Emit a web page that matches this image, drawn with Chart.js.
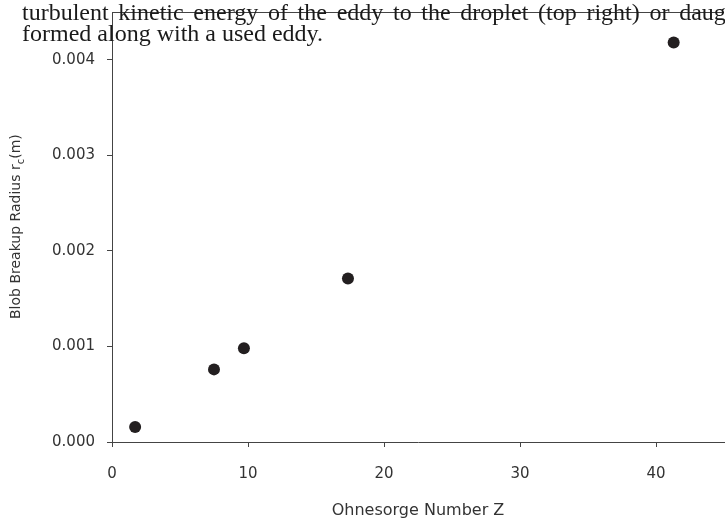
<!DOCTYPE html>
<html>
<head>
<meta charset="utf-8">
<script src="https://cdn.jsdelivr.net/npm/chart.js@4.4.0/dist/chart.umd.min.js"></script>
<style>
	html, body { margin: 0; padding: 0; background: #fff; overflow: hidden; width: 725px; height: 520px; }
	#wrap { position: relative; width: 725px; height: 520px; overflow: hidden; }
	canvas { position: absolute; left: 0; top: 0; }
	.note { position: absolute; left: 22px; font-family: "Liberation Serif", serif; font-size: 24px; line-height: 1; color: #1a1a1a; white-space: nowrap; }
</style>
</head>
<body>
<div id="wrap">
	<canvas id="chart" width="730" height="520" style="width: 730px; height: 520px"></canvas>
	<div class="note" style="top: -0.5px; word-spacing: 3.7px">turbulent kinetic energy of the eddy to the droplet (top right) or daughter</div>
	<div class="note" style="top: 20.8px">formed along with a used eddy.</div>
</div>
<script>
const ohnesorge = [1.7, 7.5, 9.7, 17.35, 41.3];
const breakupRadius = [0.000157, 0.00076, 0.00098, 0.00171, 0.00418];
const xTicks = [0, 10, 20, 30, 40];
const yTicks = [0.000, 0.001, 0.002, 0.003, 0.004];

const axisColor = "#444";
const textColor = "#333";

const frame = {
	id: "frame",
	afterDraw: (chart) => {
		const { ctx, chartArea } = chart;
		ctx.save();
		// top border of the plot box
		ctx.strokeStyle = axisColor;
		ctx.lineWidth = 1;
		ctx.beginPath();
		ctx.moveTo(chartArea.left, chartArea.top + 0.5);
		ctx.lineTo(chartArea.right, chartArea.top + 0.5);
		ctx.stroke();

		// y title with subscript c
		ctx.translate(20, 319);
		ctx.rotate(-Math.PI / 2);
		ctx.fillStyle = textColor;
		ctx.textBaseline = "alphabetic";
		ctx.textAlign = "left";
		ctx.font = "14px 'DejaVu Sans'";
		const main = "Blob Breakup Radius r";
		ctx.fillText(main, 0, 0);
		let w = ctx.measureText(main).width;
		ctx.font = "10px 'DejaVu Sans'";
		ctx.fillText("c", w, 4);
		w += ctx.measureText("c").width;
		ctx.font = "14px 'DejaVu Sans'";
		ctx.fillText("(m)", w, 0);
		ctx.restore();
	},
};

const ctx = document.getElementById("chart").getContext("2d");

new Chart(ctx, {
	type: "scatter",
	data: {
		datasets: [
			{
				data: ohnesorge.map((x, i) => ({ x, y: breakupRadius[i] })),
				pointRadius: 6,
				pointHoverRadius: 6,
				backgroundColor: "#231f20",
				borderColor: "#231f20",
				borderWidth: 0,
			},
		],
	},
	options: {
		responsive: false,
		animation: false,
		devicePixelRatio: 1,
		layout: {
			padding: { top: 12, right: 3, bottom: 0, left: 0 },
		},
		plugins: {
			legend: { display: false },
			tooltip: { enabled: false },
		},
		scales: {
			x: {
				type: "linear",
				min: 0,
				max: 45,
				afterFit: (scale) => {
					scale.height = 78;
					scale.paddingLeft = 0;
					scale.paddingRight = 0;
				},
				afterBuildTicks: (scale) => {
					scale.ticks = xTicks.map((value) => ({ value }));
				},
				border: { color: axisColor, width: 1 },
				grid: {
					drawOnChartArea: false,
					drawTicks: true,
					tickLength: 5,
					color: axisColor,
				},
				ticks: {
					padding: 18,
					color: textColor,
					font: { family: "DejaVu Sans", size: 15 },
				},
				title: {
					display: true,
					text: "Ohnesorge Number Z",
					color: textColor,
					font: { family: "DejaVu Sans", size: 16 },
					padding: { top: 0, bottom: 0 },
				},
			},
			y: {
				min: 0,
				max: 0.0045,
				afterFit: (scale) => {
					scale.width = 112;
					scale.paddingTop = 0;
					scale.paddingBottom = 0;
				},
				afterBuildTicks: (scale) => {
					scale.ticks = yTicks.map((value) => ({ value }));
				},
				border: { color: axisColor, width: 1 },
				grid: {
					drawOnChartArea: false,
					drawTicks: true,
					tickLength: 5,
					color: axisColor,
				},
				ticks: {
					padding: 12,
					color: textColor,
					font: { family: "DejaVu Sans", size: 15 },
					callback: (value) => value.toFixed(3),
				},
			},
		},
	},
	plugins: [frame],
});
</script>
</body>
</html>
